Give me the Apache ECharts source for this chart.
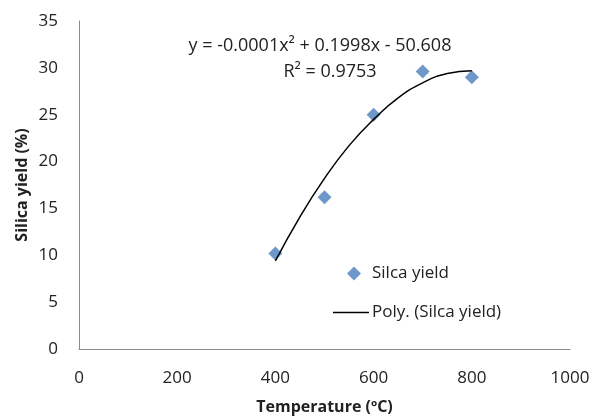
<!DOCTYPE html>
<html>
<head>
<meta charset="utf-8">
<script src="https://cdn.jsdelivr.net/npm/echarts@6/dist/echarts.min.js"></script>
<style>
  html,body{margin:0;padding:0;background:#fff;}
  #chart{width:594px;height:417px;}
</style>
</head>
<body>
<div id="chart"></div>
<script>
	// measured points
	var temps = [400, 500, 600, 700, 800];
	var yields = [10.2, 16.2, 25.0, 29.6, 29.0];

	// trendline
	var trendX = [400, 450, 500, 550, 600, 650, 700, 750, 800];
	var trendY = [9.4, 14.1, 18.2, 21.7, 24.5, 26.8, 28.4, 29.4, 29.7];

	var eqText = 'y = -0.0001x² + 0.1998x - 50.608';
	var r2Text = 'R² = 0.9753';

	var font = '"Open Sans", sans-serif';

	var pts = [];
	for(var i=0;i<temps.length;i++){ pts.push([temps[i], yields[i]]); }
	var trend = [];
	for(var j=0;j<trendX.length;j++){ trend.push([trendX[j], trendY[j]]); }

	var myChart = echarts.init(document.getElementById('chart'));
	var option = {
		backgroundColor:'#fff',
		animation:false,
		textStyle:{fontFamily:font},
		grid:{left:79, right:24, top:21, bottom:68, outerBoundsMode:'none'},
		xAxis:{
			type:'value', min:0, max:1000, interval:200,
			name:'Temperature (ºC)', nameLocation:'middle', nameGap:50, nameMoveOverlap:false,
			nameTextStyle:{fontFamily:font, fontWeight:'bold', fontSize:16, color:'#222'},
			axisLine:{show:true, lineStyle:{color:'#8c8c8c'}},
			axisTick:{show:false},
			splitLine:{show:false},
			axisLabel:{fontFamily:font, fontSize:17, color:'#222', margin:21,
				formatter:function(v){ return String(v); }}
		},
		yAxis:{
			type:'value', min:0, max:35, interval:5,
			name:'Silica yield (%)', nameLocation:'middle', nameGap:49, nameMoveOverlap:false,
			nameTextStyle:{fontFamily:font, fontWeight:'bold', fontSize:16, color:'#222'},
			axisLine:{show:true, lineStyle:{color:'#8c8c8c'}},
			axisTick:{show:false},
			splitLine:{show:false},
			axisLabel:{fontFamily:font, fontSize:17, color:'#222', margin:21}
		},
		legend:[
			{data:['Silca yield'], left:342, top:260, itemWidth:14, itemHeight:14, itemGap:10,
			 textStyle:{fontFamily:font, fontSize:17, color:'#222', padding:[0,0,0,6]}},
			{data:[{name:'Poly. (Silca yield)', icon:'rect'}], left:328, top:299, itemWidth:36, itemHeight:1.5, itemGap:10,
			 textStyle:{fontFamily:font, fontSize:17, color:'#222', padding:[0,0,0,-2]}}
		],
		graphic:[
			{type:'text', style:{text:eqText, x:320, y:46, textAlign:'center', textVerticalAlign:'middle', font:'18px '+font, fill:'#222'}},
			{type:'text', style:{text:r2Text, x:330, y:72, textAlign:'center', textVerticalAlign:'middle', font:'18px '+font, fill:'#222'}}
		],
		series:[
			{
				name:'Poly. (Silca yield)', type:'line', data:trend, smooth:true,
				symbol:'none', lineStyle:{color:'#000', width:1.5}, itemStyle:{color:'#000'}, z:3
			},
			{
				name:'Silca yield', type:'scatter', data:pts, symbol:'diamond', symbolSize:14,
				itemStyle:{color:'#4a7ebb'}, z:2
			}
		]
	};
	myChart.setOption(option);
</script>
</body>
</html>
